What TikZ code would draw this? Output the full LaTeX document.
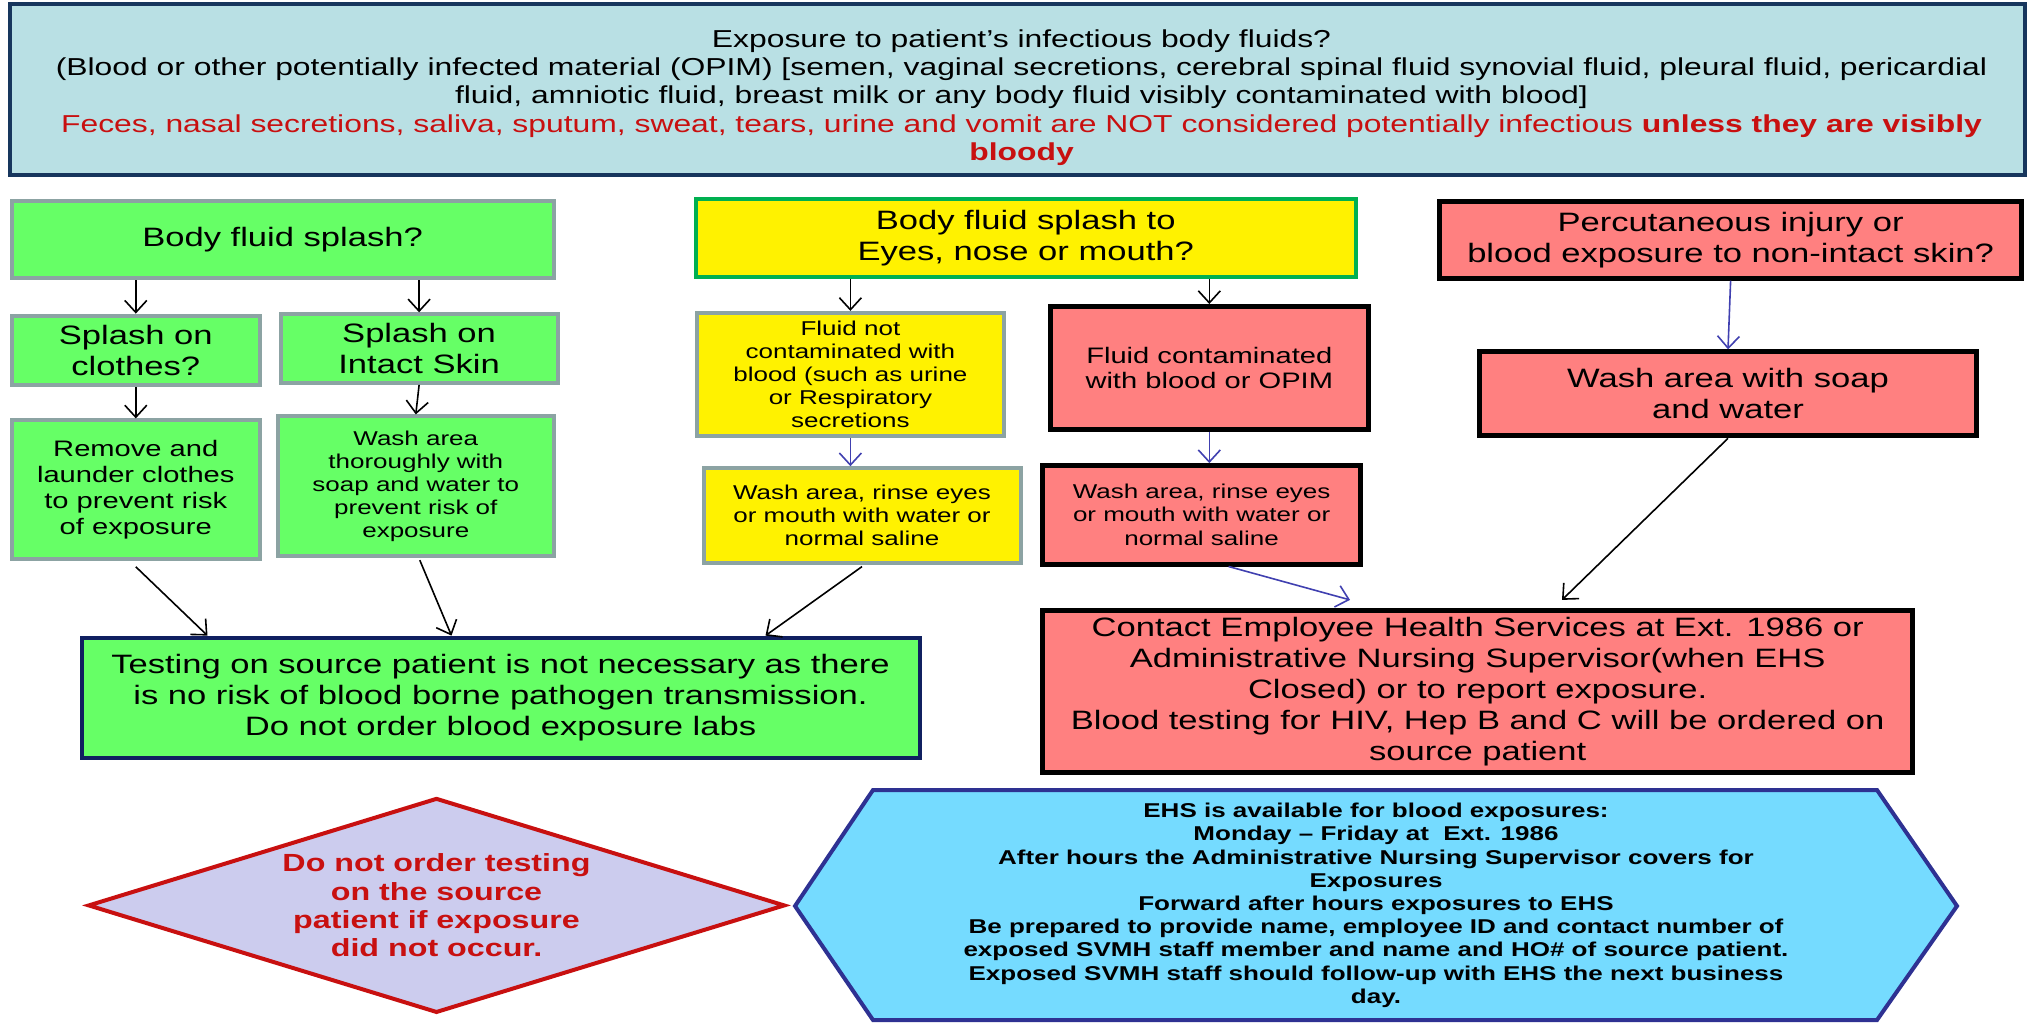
\documentclass[tikz,border=0pt]{standalone}
\usepackage{fontspec}
\setmainfont{Liberation Sans}[FakeStretch=1.3]
\usetikzlibrary{shapes.geometric,arrows.meta}
\definecolor{topfill}{RGB}{185,224,228}
\definecolor{navy}{RGB}{23,54,93}
\definecolor{labnavy}{RGB}{16,32,96}
\definecolor{splashgreen}{RGB}{102,255,102}
\definecolor{boxgray}{RGB}{140,163,163}
\definecolor{eyegreen}{RGB}{0,176,80}
\definecolor{salmon}{RGB}{255,128,128}
\definecolor{alertred}{RGB}{200,16,16}
\definecolor{lavender}{RGB}{204,204,238}
\definecolor{ehscyan}{RGB}{117,219,255}
\definecolor{ehsborder}{RGB}{46,49,146}
\definecolor{arrowblue}{RGB}{64,64,176}
\begin{document}
\begin{tikzpicture}[x=0.5pt,y=-0.5pt,
  box/.style={rectangle,align=center,inner sep=0pt,line width=2pt},
  greenbox/.style={box,fill=splashgreen,draw=boxgray},
  yellowbox/.style={box,fill=yellow,draw=boxgray},
  redbox/.style={box,fill=salmon,draw=black,line width=2.5pt},
  bigtxt/.style={font=\fontsize{13.3pt}{15.5pt}\selectfont},
  midtxt/.style={font=\fontsize{11.2pt}{12.9pt}\selectfont},
  smalltxt/.style={font=\fontsize{10pt}{11.6pt}\selectfont},
  arr/.style={-{Straight Barb[length=6pt,width=11pt]},line width=0.8pt},
  bluearr/.style={arr,draw=arrowblue}]
\useasboundingbox (0,0) rectangle (2028,1023);
\node[box,fill=topfill,draw=navy,line width=2.2pt,minimum width=1007.5pt,minimum height=85.5pt] (exposure) at (1017.5,89.5) {};
\node[align=center,font=\fontsize{12.25pt}{14.1pt}\selectfont] (exposuretext) at ([xshift=2pt,yshift=-4pt]exposure.center) {Exposure to patient’s infectious body fluids?\\(Blood or other potentially infected material (OPIM) [semen, vaginal secretions, cerebral spinal fluid synovial fluid, pleural fluid, pericardial\\fluid, amniotic fluid, breast milk or any body fluid visibly contaminated with blood]\\\textcolor{alertred}{Feces, nasal secretions, saliva, sputum, sweat, tears, urine and vomit are NOT considered potentially infectious \textbf{unless they are visibly}}\\\textcolor{alertred}{\textbf{bloody}}};
\node[greenbox,bigtxt,minimum width=271pt,minimum height=38.8pt] (splash) at (282.6,239.3) {Body fluid splash?};
\node[yellowbox,draw=eyegreen,bigtxt,minimum width=329.9pt,minimum height=38.8pt] (eyes) at (1025.7,238) {Body fluid splash to\\Eyes, nose or mouth?};
\node[redbox,bigtxt,minimum width=291pt,minimum height=38.2pt] (percut) at (1730.6,239.9) {Percutaneous injury or\\blood exposure to non-intact skin?};
\node[greenbox,bigtxt,minimum width=124.2pt,minimum height=34.9pt] (clothes) at (135.8,350.5) {Splash on\\clothes?};
\node[greenbox,bigtxt,minimum width=138.4pt,minimum height=34.3pt] (skin) at (419.1,348.6) {Splash on\\Intact Skin};
\node[yellowbox,smalltxt,minimum width=153.3pt,minimum height=61.5pt] (clean) at (850.4,374.4) {Fluid not\\contaminated with\\blood (such as urine\\or Respiratory\\secretions};
\node[redbox,midtxt,minimum width=159.1pt,minimum height=61.5pt] (blood) at (1209.3,368) {Fluid contaminated\\with blood or OPIM};
\node[redbox,bigtxt,minimum width=248.4pt,minimum height=42pt] (wash) at (1728,393.8) {Wash area with soap\\and water};
\node[greenbox,midtxt,minimum width=124.2pt,minimum height=69.2pt] (launder) at (135.8,489.6) {Remove and\\launder clothes\\to prevent risk\\of exposure};
\node[greenbox,smalltxt,minimum width=137.8pt,minimum height=69.9pt] (scrub) at (415.8,486.3) {Wash area\\thoroughly with\\soap and water to\\prevent risk of\\exposure};
\node[yellowbox,smalltxt,minimum width=158.5pt,minimum height=47.2pt] (rinseA) at (862,515.4) {Wash area, rinse eyes\\or mouth with water or\\normal saline};
\node[redbox,smalltxt,minimum width=159pt,minimum height=49.2pt] (rinseB) at (1201.6,514.8) {Wash area, rinse eyes\\or mouth with water or\\normal saline};
\node[greenbox,draw=labnavy,bigtxt,minimum width=419pt,minimum height=60.2pt] (testing) at (500.5,697.8) {Testing on source patient is not necessary as there\\is no risk of blood borne pathogen transmission.\\Do not order blood exposure labs};
\node[redbox,bigtxt,minimum width=435.2pt,minimum height=80.9pt] (contact) at (1477.7,691.3) {Contact Employee Health Services at Ext. 1986 or\\Administrative Nursing Supervisor(when EHS\\Closed) or to report exposure.\\Blood testing for HIV, Hep B and C will be ordered on\\source patient};
\node[diamond,aspect=3.25,inner sep=0pt,fill=lavender,draw=alertred,line width=2pt,minimum width=348.5pt,minimum height=107.4pt,align=center,text=alertred,font=\bfseries\fontsize{12.4pt}{14.2pt}\selectfont] (notest) at (436.5,905.4) {Do not order testing\\on the source\\patient if exposure\\did not occur.};
\filldraw[fill=ehscyan,draw=ehsborder,line width=2pt] (795,906) -- (873,790) -- (1877,790) -- (1957,906) -- (1877,1020) -- (873,1020) -- cycle;
\node[align=center,font=\bfseries\fontsize{10pt}{11.6pt}\selectfont] (hours) at (1376,905.4) {EHS is available for blood exposures:\\Monday – Friday at~ Ext. 1986\\After hours the Administrative Nursing Supervisor covers for\\Exposures\\Forward after hours exposures to EHS\\Be prepared to provide name, employee ID and contact number of\\exposed SVMH staff member and name and HO\# of source patient.\\Exposed SVMH staff should follow-up with EHS the next business\\day.};
\draw[arr] (splash.south -| clothes.north) -- (clothes.north);
\draw[arr] (splash.south -| skin.north) -- (skin.north);
\draw[arr] (clothes.south) -- (launder.north);
\draw[arr] (skin.south) -- (scrub.north);
\draw[arr] ([yshift=-3pt]launder.south) -- ([xshift=64pt]testing.north west);
\draw[arr] ([xshift=2pt,yshift=-1pt]scrub.south) -- ([xshift=186pt]testing.north west);
\draw[arr] ([yshift=-1pt]rinseA.south) -- ([xshift=-78pt]testing.north east);
\draw[arr] (eyes.south -| clean.north) -- (clean.north);
\draw[arr] (eyes.south -| blood.north) -- (blood.north);
\draw[bluearr] (clean.south) -- (clean.south |- rinseA.north);
\draw[bluearr] (blood.south) -- (blood.south |- rinseB.north);
\draw[bluearr] ([xshift=13.5pt]rinseB.south) -- ([xshift=155pt,yshift=4pt]contact.north west);
\draw[bluearr] (percut.south) -- (wash.north);
\draw[arr] (wash.south) -- ([xshift=261pt,yshift=4pt]contact.north west);
\end{tikzpicture}
\end{document}
